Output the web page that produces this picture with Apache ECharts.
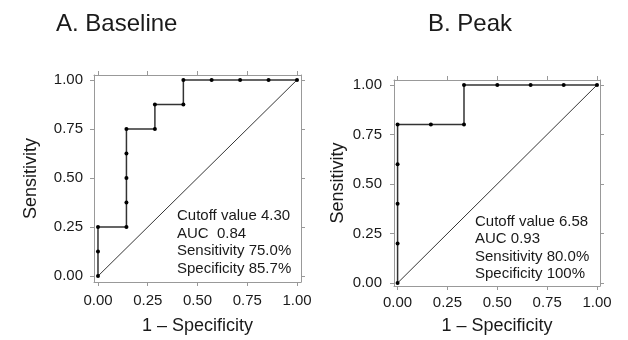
<!DOCTYPE html>
<html>
<head>
<meta charset="utf-8">
<script src="https://cdn.jsdelivr.net/npm/echarts@6/dist/echarts.min.js"></script>
<style>
  html, body { margin: 0; padding: 0; background: #fff; }
  #chart { width: 628px; height: 340px; }
</style>
</head>
<body>
<div id="chart"></div>
<script>
// ROC points, 1 - specificity (x) and sensitivity (y)
const baselineFpr = [0, 0, 0, 0.143, 0.143, 0.143, 0.143, 0.143, 0.286, 0.286, 0.429, 0.429, 0.571, 0.714, 0.857, 1];
const baselineTpr = [0, 0.125, 0.25, 0.25, 0.375, 0.5, 0.625, 0.75, 0.75, 0.875, 0.875, 1, 1, 1, 1, 1];
const peakFpr = [0, 0, 0, 0, 0, 0.167, 0.333, 0.333, 0.5, 0.667, 0.833, 1];
const peakTpr = [0, 0.2, 0.4, 0.6, 0.8, 0.8, 0.8, 1, 1, 1, 1, 1];
const diagonal = [[0, 0], [1, 1]];
const tickValues = [0, 0.25, 0.5, 0.75, 1];
const panelTitles = ['A. Baseline', 'B. Peak'];
const baselineNotes = ['Cutoff value 4.30', 'AUC  0.84', 'Sensitivity 75.0%', 'Specificity 85.7%'];
const peakNotes = ['Cutoff value 6.58', 'AUC 0.93', 'Sensitivity 80.0%', 'Specificity 100%'];

const FONT = '"Liberation Sans", Arial, sans-serif';
const TXT = '#1a1a1a';
const FRAME = '#999';

const zip = (xs, ys) => xs.map((x, i) => [x, ys[i]]);

function axis(grid, pos, range, margin, opts) {
  const main = pos === 'bottom' || pos === 'left';
  return Object.assign({
    type: 'value',
    gridIndex: grid,
    position: pos,
    min: range[0],
    max: range[1],
    splitLine: { show: false },
    axisLine: { show: true, onZero: false, lineStyle: { color: FRAME, width: 1 } },
    axisTick: { show: true, inside: false, length: 4, customValues: tickValues, lineStyle: { color: FRAME } },
    axisLabel: {
      show: main,
      margin: margin || 8,
      customValues: tickValues,
      formatter: v => v.toFixed(2),
      fontFamily: FONT, fontSize: 15, color: TXT
    }
  }, opts || {});
}

const nameStyle = { fontFamily: FONT, fontSize: 18, color: TXT };

const chart = echarts.init(document.getElementById('chart'));

chart.setOption({
  animation: false,
  title: [
    { text: panelTitles[0], left: 56, top: 12, padding: 0, textStyle: { fontFamily: FONT, fontSize: 24, fontWeight: 'normal', color: TXT } },
    { text: panelTitles[1], left: 428, top: 12, padding: 0, textStyle: { fontFamily: FONT, fontSize: 24, fontWeight: 'normal', color: TXT } }
  ],
  grid: [
    { left: 94, top: 75, width: 207, height: 212 },
    { left: 394, top: 80, width: 206, height: 210 }
  ],
  xAxis: [
    axis(0, 'bottom', [-0.02, 1.02], 11, {
      name: '1 \u2013 Specificity', nameLocation: 'middle', nameGap: 35, nameTextStyle: nameStyle
    }),
    axis(0, 'top', [-0.02, 1.02]),
    axis(1, 'bottom', [-0.018, 1.015], 9, {
      name: '1 \u2013 Specificity', nameLocation: 'middle', nameGap: 31, nameTextStyle: nameStyle
    }),
    axis(1, 'top', [-0.018, 1.015])
  ],
  yAxis: [
    axis(0, 'left', [-0.03, 1.025], 11, {
      name: 'Sensitivity', nameLocation: 'middle', nameGap: 54, nameTextStyle: nameStyle
    }),
    axis(0, 'right', [-0.03, 1.025]),
    axis(1, 'left', [-0.015, 1.025], 12, {
      name: 'Sensitivity', nameLocation: 'middle', nameGap: 47, nameTextStyle: nameStyle
    }),
    axis(1, 'right', [-0.015, 1.025])
  ],
  series: [
    {
      type: 'line', xAxisIndex: 0, yAxisIndex: 0, data: diagonal,
      symbol: 'none', lineStyle: { color: '#000', width: 0.8 }
    },
    {
      type: 'line', xAxisIndex: 0, yAxisIndex: 0, data: zip(baselineFpr, baselineTpr),
      symbol: 'circle', symbolSize: 4,
      itemStyle: { color: '#000' },
      lineStyle: { color: '#333', width: 1.5 }
    },
    {
      type: 'line', xAxisIndex: 2, yAxisIndex: 2, data: diagonal,
      symbol: 'none', lineStyle: { color: '#000', width: 0.8 }
    },
    {
      type: 'line', xAxisIndex: 2, yAxisIndex: 2, data: zip(peakFpr, peakTpr),
      symbol: 'circle', symbolSize: 4,
      itemStyle: { color: '#000' },
      lineStyle: { color: '#333', width: 1.5 }
    }
  ],
  graphic: [
    {
      type: 'text', left: 177, top: 207,
      style: { text: baselineNotes.join('\n'), fontFamily: FONT, fontSize: 15, lineHeight: 17.7, fill: TXT }
    },
    {
      type: 'text', left: 475, top: 213,
      style: { text: peakNotes.join('\n'), fontFamily: FONT, fontSize: 15, lineHeight: 17.5, fill: TXT }
    }
  ]
});
</script>
</body>
</html>
